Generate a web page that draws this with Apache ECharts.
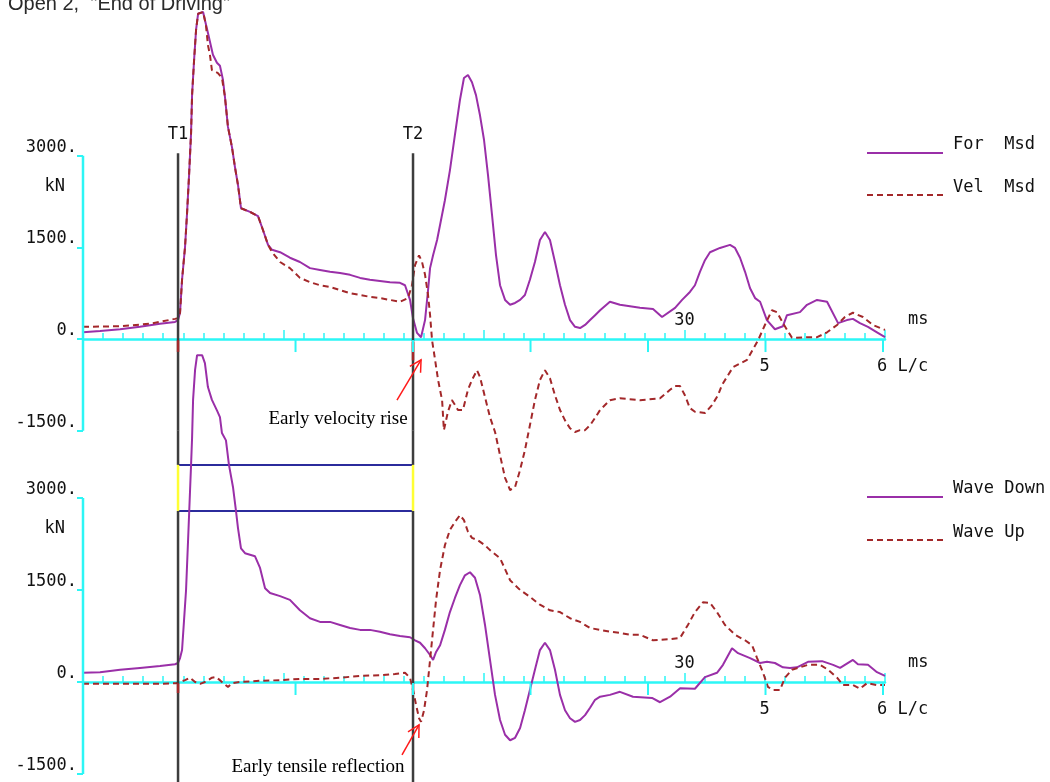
<!DOCTYPE html>
<html>
<head>
<meta charset="utf-8">
<script src="https://cdn.jsdelivr.net/npm/echarts@6/dist/echarts.min.js"></script>
<style>
  html, body { margin: 0; padding: 0; background: #ffffff; }
  #chart { width: 1050px; height: 782px; }
</style>
</head>
<body>
<div id="chart"></div>
<script>
// ---- Measured signals: [time (ms), value (kN)] ----
const forceMsd = [
  [0,110],[0.85,130],[1.85,160],[2.84,200],[3.84,250],[4.59,280],[4.74,310],[4.84,430],[4.94,970],
  [5.09,1510],[5.19,2060],[5.29,2680],[5.39,3370],[5.44,3990],[5.54,4560],[5.64,5060],[5.74,5320],
  [5.99,5350],[6.08,5220],[6.23,5010],[6.48,4650],[6.68,4520],[6.83,4470],[6.98,4240],[7.08,3960],
  [7.23,3470],[7.43,3140],[7.58,2810],[7.73,2520],[7.88,2140],[8.33,2080],[8.73,2010],[8.98,1780],
  [9.23,1540],[9.43,1460],[9.83,1420],[10.32,1330],[10.82,1260],[11.32,1160],[11.82,1130],[12.32,1100],
  [12.82,1080],[13.32,1050],[13.82,1000],[14.31,970],[14.81,950],[15.31,930],[15.81,920],[16.06,880],
  [16.31,640],[16.46,340],[16.66,100],[16.86,30],[17.06,310],[17.21,800],[17.31,1160],[17.46,1370],
  [17.66,1620],[17.81,1870],[18.05,2270],[18.3,2760],[18.55,3340],[18.8,3910],[19.0,4270],[19.2,4320],
  [19.4,4200],[19.6,3990],[19.8,3660],[20.0,3260],[20.2,2680],[20.4,2030],[20.6,1370],[20.8,880],
  [21.05,640],[21.3,560],[21.55,590],[21.8,640],[22.04,720],[22.29,970],[22.54,1260],[22.79,1620],
  [23.04,1750],[23.29,1620],[23.54,1260],[23.79,880],[24.04,560],[24.29,310],[24.54,200],[24.79,180],
  [25.04,230],[25.29,310],[25.54,390],[25.79,470],[26.28,610],[26.78,560],[27.78,510],[28.43,490],
  [28.88,360],[29.53,510],[29.88,640],[30.27,770],[30.52,880],[30.77,1100],[31.02,1290],[31.27,1420],
  [31.77,1490],[32.27,1540],[32.52,1490],[32.77,1330],[33.02,1100],[33.27,830],[33.52,670],[33.77,610],
  [34.11,310],[34.51,160],[34.91,210],[35.11,390],[35.76,440],[36.11,560],[36.61,640],[37.11,610],
  [37.66,260],[38.1,310],[38.4,330],[38.75,260],[39.15,200],[39.6,110],[40,30]
];

const velMsd = [
  [0,200],[1.85,210],[3.34,250],[4.59,330],[4.74,340],[4.84,430],[4.94,970],[5.09,1510],[5.19,2060],
  [5.29,2680],[5.39,3370],[5.44,3990],[5.54,4560],[5.64,5060],[5.74,5320],[5.99,5350],[6.13,5140],
  [6.23,4810],[6.33,4650],[6.43,4400],[6.73,4350],[6.93,4270],[7.08,3960],[7.23,3470],[7.43,3140],
  [7.58,2810],[7.73,2520],[7.88,2140],[8.33,2080],[8.73,2010],[8.98,1780],[9.23,1540],[9.43,1420],
  [9.83,1260],[10.32,1160],[10.82,1000],[11.32,930],[11.82,880],[12.32,850],[12.82,800],[13.32,750],
  [13.82,720],[14.31,690],[14.81,670],[15.31,640],[15.81,610],[16.21,670],[16.41,880],[16.56,1210],
  [16.76,1370],[16.91,1260],[17.06,1050],[17.21,720],[17.31,390],[17.41,-20],[17.56,-340],[17.71,-670],
  [17.91,-1000],[18.0,-1490],[18.2,-1190],[18.4,-1000],[18.5,-1050],[18.7,-1160],[18.95,-1160],
  [19.2,-830],[19.4,-670],[19.65,-510],[19.8,-620],[20.05,-950],[20.3,-1280],[20.55,-1520],[20.8,-1900],
  [21.05,-2270],[21.3,-2470],[21.55,-2420],[21.8,-2140],[22.04,-1820],[22.29,-1410],[22.54,-1000],
  [22.79,-670],[23.04,-510],[23.29,-640],[23.54,-920],[23.79,-1160],[24.04,-1330],[24.29,-1460],
  [24.54,-1520],[24.79,-1490],[25.04,-1490],[25.29,-1410],[25.54,-1290],[25.79,-1160],[26.28,-1000],
  [26.78,-970],[27.78,-1000],[28.78,-970],[29.28,-830],[29.53,-770],[29.78,-770],[30.02,-920],
  [30.27,-1130],[30.52,-1190],[31.02,-1210],[31.37,-1080],[31.67,-920],[31.87,-750],[32.42,-460],
  [33.12,-340],[33.67,-20],[34.01,230],[34.36,470],[34.61,440],[34.91,260],[35.36,20],[36.11,30],
  [36.61,30],[37.11,110],[37.61,230],[38.0,360],[38.4,430],[38.9,360],[39.4,230],[40,150]
];

const waveDown = [
  [0,150],[0.85,160],[1.85,200],[2.84,230],[3.84,260],[4.59,290],[4.74,310],[4.84,390],[4.94,520],
  [5.04,1010],[5.14,1500],[5.24,2310],[5.29,2720],[5.34,3130],[5.39,3540],[5.44,3980],[5.49,4600],
  [5.59,5090],[5.69,5330],[5.74,5360],[5.94,5330],[6.08,5200],[6.23,4810],[6.43,4600],[6.68,4430],
  [6.83,4320],[6.93,4060],[7.13,3940],[7.28,3540],[7.48,3180],[7.63,2790],[7.73,2510],[7.88,2180],
  [8.08,2100],[8.58,2050],[8.83,1860],[9.08,1530],[9.33,1450],[9.83,1400],[10.32,1340],[10.82,1170],
  [11.32,1040],[11.82,980],[12.32,980],[12.82,930],[13.32,880],[13.82,850],[14.31,850],[14.81,820],
  [15.31,780],[15.81,750],[16.31,730],[16.56,680],[16.81,640],[17.06,550],[17.31,440],[17.46,360],
  [17.61,490],[17.81,600],[18.05,850],[18.3,1140],[18.55,1370],[18.8,1580],[19.05,1740],[19.3,1790],
  [19.55,1700],[19.8,1420],[20.05,930],[20.3,360],[20.55,-210],[20.8,-620],[21.05,-860],[21.3,-950],
  [21.55,-910],[21.8,-750],[22.04,-460],[22.29,-130],[22.54,200],[22.79,520],[23.04,640],[23.29,520],
  [23.54,200],[23.79,-210],[24.04,-460],[24.29,-590],[24.54,-650],[24.79,-620],[25.04,-540],
  [25.29,-420],[25.54,-290],[25.79,-240],[26.28,-210],[26.78,-160],[27.43,-240],[28.38,-260],
  [28.78,-330],[29.28,-240],[29.78,-100],[30.52,-110],[31.02,80],[31.62,150],[31.92,280],[32.37,550],
  [32.67,470],[33.27,390],[33.77,310],[34.11,330],[34.51,310],[34.91,240],[35.26,230],[35.61,240],
  [36.16,330],[36.86,340],[37.41,280],[37.76,230],[38.4,360],[38.65,290],[39.15,280],[39.6,160],[40,100]
];

const waveUp = [
  [0,-30],[3.84,-30],[4.64,-20],[4.84,0],[5.09,30],[5.34,70],[5.59,0],[5.84,-30],[6.08,0],[6.23,30],
  [6.43,70],[6.63,80],[6.83,30],[7.03,-30],[7.23,-80],[7.43,-20],[7.83,0],[8.83,20],[9.83,30],
  [10.82,50],[11.82,50],[12.82,70],[13.82,100],[14.81,110],[15.56,130],[16.06,150],[16.31,70],
  [16.46,-130],[16.61,-370],[16.76,-590],[16.86,-650],[17.01,-460],[17.16,-130],[17.31,360],[17.46,850],
  [17.61,1340],[17.81,1830],[18.05,2230],[18.3,2480],[18.55,2610],[18.8,2720],[19.0,2640],[19.2,2450],
  [19.4,2350],[19.7,2310],[20.05,2230],[20.3,2150],[20.8,2020],[21.3,1660],[21.8,1500],[22.29,1390],
  [22.79,1260],[23.29,1170],[23.79,1140],[24.29,1040],[24.79,980],[25.29,880],[25.79,850],[26.28,820],
  [26.78,800],[27.28,770],[27.78,770],[28.43,680],[29.28,700],[29.78,720],[30.17,930],[30.52,1140],
  [30.92,1300],[31.27,1290],[31.62,1140],[32.02,930],[32.52,770],[33.02,680],[33.37,600],[33.62,390],
  [33.92,150],[34.16,-80],[34.41,-130],[34.76,-130],[35.01,70],[35.36,200],[35.76,240],[36.16,280],
  [36.76,280],[37.16,200],[37.61,70],[37.91,-50],[38.4,-50],[38.75,-110],[39.1,-20],[39.6,-50],[40,-50]
];

// ---- Axes, markers and labels ----
const yTickValues = [-1500, 0, 1500, 3000];
const timeRange = [0, 40];           // ms
const timeLabelAt = 30;              // ms
const T1 = 4.74;                     // ms
const T2 = 16.46;                    // ms
const lcMultiples = [1, 2, 3, 4, 5, 6];
const lcLabels = { 5: '5', 6: '6 L/c' };
const bandLevels = [3540, 2790];     // kN, lower panel
const titleText = 'Open 2,  "End of Driving"';
const topLegend = ['For  Msd', 'Vel  Msd'];
const bottomLegend = ['Wave Down', 'Wave Up'];
const notes = [
  { grid: 0, text: 'Early velocity rise', at: [12.72, -1310], from: [15.66, -1000], to: [16.86, -340] },
  { grid: 1, text: 'Early tensile reflection', at: [11.72, -1390], from: [15.91, -1190], to: [16.76, -700] }
];

const LC = (T2 - T1) / 2;
const CYAN = '#2cf6f6';
const PURPLE = '#9a2fa8';
const BROWN = '#a3282a';
const MONO = '"DejaVu Sans Mono", monospace';

function segmentSeries(grid, segs, color, width, z) {
  return {
    type: 'custom', xAxisIndex: grid, yAxisIndex: grid, z: z, silent: true,
    data: segs,
    renderItem: function (params, api) {
      const a = api.coord([api.value(0), api.value(1)]);
      const b = api.coord([api.value(2), api.value(3)]);
      return { type: 'line', shape: { x1: a[0], y1: a[1], x2: b[0], y2: b[1] },
               style: { stroke: color, lineWidth: width } };
    }
  };
}

function lcTickSeries(grid) {
  return {
    type: 'custom', xAxisIndex: grid, yAxisIndex: grid, z: 5, silent: true,
    data: lcMultiples.map(n => [T1 + n * LC, 0]),
    renderItem: function (params, api) {
      const p = api.coord([api.value(0), 0]);
      const children = [{ type: 'line', shape: { x1: p[0], y1: p[1] + 1, x2: p[0], y2: p[1] + 13 },
                          style: { stroke: CYAN, lineWidth: 2 } }];
      const lab = lcLabels[lcMultiples[params.dataIndex]];
      if (lab) {
        children.push({ type: 'text', x: p[0] - 6, y: p[1] + 28,
          style: { text: lab, font: '17px ' + MONO, fill: '#111', align: 'left', verticalAlign: 'middle' } });
      }
      return { type: 'group', children: children };
    }
  };
}

function tLabelSeries(grid) {
  return {
    type: 'custom', xAxisIndex: grid, yAxisIndex: grid, z: 5, silent: true,
    data: [[T1, 3040, 1], [T2, 3040, 2]],
    renderItem: function (params, api) {
      const p = api.coord([api.value(0), api.value(1)]);
      return { type: 'text', x: p[0], y: p[1] - 19,
        style: { text: 'T' + api.value(2), font: '17px ' + MONO, fill: '#111', align: 'center', verticalAlign: 'middle' } };
    }
  };
}

function noteSeries(grid) {
  const list = notes.filter(n => n.grid === grid);
  return {
    type: 'custom', xAxisIndex: grid, yAxisIndex: grid, z: 6, silent: true,
    data: list.map(n => n.at),
    renderItem: function (params, api) {
      const n = list[params.dataIndex];
      const t = api.coord(n.at);
      const a = api.coord(n.from);
      const b = api.coord(n.to);
      const ang = Math.atan2(a[1] - b[1], a[0] - b[0]);
      const L = 13, spread = 0.5;
      const h1 = [b[0] + L * Math.cos(ang + spread), b[1] + L * Math.sin(ang + spread)];
      const h2 = [b[0] + L * Math.cos(ang - spread), b[1] + L * Math.sin(ang - spread)];
      return { type: 'group', children: [
        { type: 'text', x: t[0], y: t[1],
          style: { text: n.text, font: '19px "Liberation Serif", "Times New Roman", serif', fill: '#000',
                   align: 'center', verticalAlign: 'middle' } },
        { type: 'line', shape: { x1: a[0], y1: a[1], x2: b[0], y2: b[1] }, style: { stroke: '#ff1a1a', lineWidth: 1.5 } },
        { type: 'polyline', shape: { points: [h1, b, h2] }, style: { stroke: '#ff1a1a', lineWidth: 1.5, fill: null } }
      ] };
    }
  };
}

function xAxisFor(grid) {
  return {
    type: 'value', gridIndex: grid, min: timeRange[0], max: timeRange[1], interval: 10,
    axisLine: { onZero: true, lineStyle: { color: CYAN, width: 2.5 } },
    axisTick: { inside: true, length: 9, lineStyle: { color: CYAN, width: 1.5 } },
    minorTick: { show: true, splitNumber: 10, length: 6, lineStyle: { color: CYAN, width: 1.5 } },
    axisLabel: { show: false },
    splitLine: { show: false }, minorSplitLine: { show: false }
  };
}

function yAxisFor(grid, min, max) {
  return {
    type: 'value', gridIndex: grid, min: min, max: max,
    axisLine: { show: false },
    axisTick: { show: true, customValues: yTickValues, length: 6, lineStyle: { color: CYAN, width: 2 } },
    axisLabel: { customValues: yTickValues, margin: 6, fontFamily: MONO, fontSize: 17, color: '#111',
                 verticalAlign: 'bottom', formatter: v => v + '.' },
    splitLine: { show: false }
  };
}

function legendFor(names, top, gap) {
  return {
    data: names, orient: 'vertical', left: 866, top: top, padding: 0, itemWidth: 76, itemHeight: 14,
    itemGap: gap, selectedMode: false,
    itemStyle: { opacity: 0 },
    formatter: name => '{t|' + name + '}',
    textStyle: { color: '#111', fontFamily: MONO, fontSize: 17,
                 rich: { t: { fontFamily: MONO, fontSize: 17, color: '#111', padding: [0, 0, 16, 5] } } }
  };
}

const chart = echarts.init(document.getElementById('chart'), null, { renderer: 'canvas' });

chart.setOption({
  animation: false,
  backgroundColor: '#ffffff',
  grid: [
    { left: 83, width: 802, top: 2.8, height: 501.3, containLabel: false, outerBoundsMode: 'none' },
    { left: 83, width: 802, top: 344.7, height: 438.5, containLabel: false, outerBoundsMode: 'none' }
  ],
  xAxis: [xAxisFor(0), xAxisFor(1)],
  yAxis: [yAxisFor(0, -2700, 5500), yAxisFor(1, -1650, 5500)],
  legend: [legendFor(topLegend, 136.5, 20), legendFor(bottomLegend, 480.5, 21)],
  series: [
    // lower-panel band between the marker lines
    segmentSeries(1, bandLevels.map(v => [T1, v, T2, v]), '#2b2b9c', 2, 1),
    // measured curves
    { name: 'For  Msd', type: 'line', xAxisIndex: 0, yAxisIndex: 0, data: forceMsd, showSymbol: false,
      symbol: 'none', z: 3, lineStyle: { color: PURPLE, width: 2 }, itemStyle: { color: PURPLE } },
    { name: 'Vel  Msd', type: 'line', xAxisIndex: 0, yAxisIndex: 0, data: velMsd, showSymbol: false,
      symbol: 'none', z: 3, lineStyle: { color: BROWN, width: 2, type: [6, 4] }, itemStyle: { color: BROWN } },
    { name: 'Wave Down', type: 'line', xAxisIndex: 1, yAxisIndex: 1, data: waveDown, showSymbol: false,
      symbol: 'none', z: 3, lineStyle: { color: PURPLE, width: 2 }, itemStyle: { color: PURPLE } },
    { name: 'Wave Up', type: 'line', xAxisIndex: 1, yAxisIndex: 1, data: waveUp, showSymbol: false,
      symbol: 'none', z: 3, lineStyle: { color: BROWN, width: 2, type: [6, 4] }, itemStyle: { color: BROWN } },
    // force axes (cyan), drawn from -1500 to 3000 kN
    segmentSeries(0, [[0, -1500, 0, 3000]], CYAN, 2.5, 4),
    segmentSeries(1, [[0, -1500, 0, 3000]], CYAN, 2.5, 4),
    // T1 / T2 marker lines
    segmentSeries(0, [[T1, 3040, T1, -1500], [T2, 3040, T2, -1500]], '#3d3d3d', 2.5, 4),
    segmentSeries(1, [[T1, 4100, T1, bandLevels[0]], [T1, bandLevels[1], T1, -1650],
                      [T2, 4100, T2, bandLevels[0]], [T2, bandLevels[1], T2, -1650]], '#3d3d3d', 2.5, 4),
    segmentSeries(1, [[T1, bandLevels[0], T1, bandLevels[1]], [T2, bandLevels[0], T2, bandLevels[1]]], '#ffff33', 2.5, 4),
    // velocity-coloured stubs on the marker lines just below zero
    segmentSeries(0, [[T1, -20, T1, -210], [T2, -50, T2, -350]], BROWN, 2.5, 5),
    segmentSeries(1, [[T1, -20, T1, -180]], BROWN, 2.5, 5),
    tLabelSeries(0),
    lcTickSeries(0),
    lcTickSeries(1),
    noteSeries(0),
    noteSeries(1)
  ]
});

// Title and unit labels placed relative to the axes
function axisTexts() {
  const out = [{ type: 'text', left: 8, top: -6,
    style: { text: titleText, font: '20px "Liberation Sans", Arial, sans-serif', fill: '#2a2a2a' } }];
  [0, 1].forEach(g => {
    const kn = chart.convertToPixel({ gridIndex: g }, [0, 2500]);
    const ms = chart.convertToPixel({ gridIndex: g }, [timeRange[1], 0]);
    const t30 = chart.convertToPixel({ gridIndex: g }, [timeLabelAt, 0]);
    out.push({ type: 'text', x: kn[0] - 18, y: kn[1],
      style: { text: 'kN', font: '17px ' + MONO, fill: '#111', align: 'right', verticalAlign: 'middle' } });
    out.push({ type: 'text', x: ms[0] + 23, y: ms[1] - 19,
      style: { text: 'ms', font: '17px ' + MONO, fill: '#111', align: 'left', verticalAlign: 'middle' } });
    out.push({ type: 'text', x: t30[0], y: t30[1] - 18,
      style: { text: String(timeLabelAt), font: '17px ' + MONO, fill: '#111', align: 'center', verticalAlign: 'middle' } });
  });
  return out;
}
chart.setOption({ graphic: axisTexts() });
</script>
</body>
</html>
